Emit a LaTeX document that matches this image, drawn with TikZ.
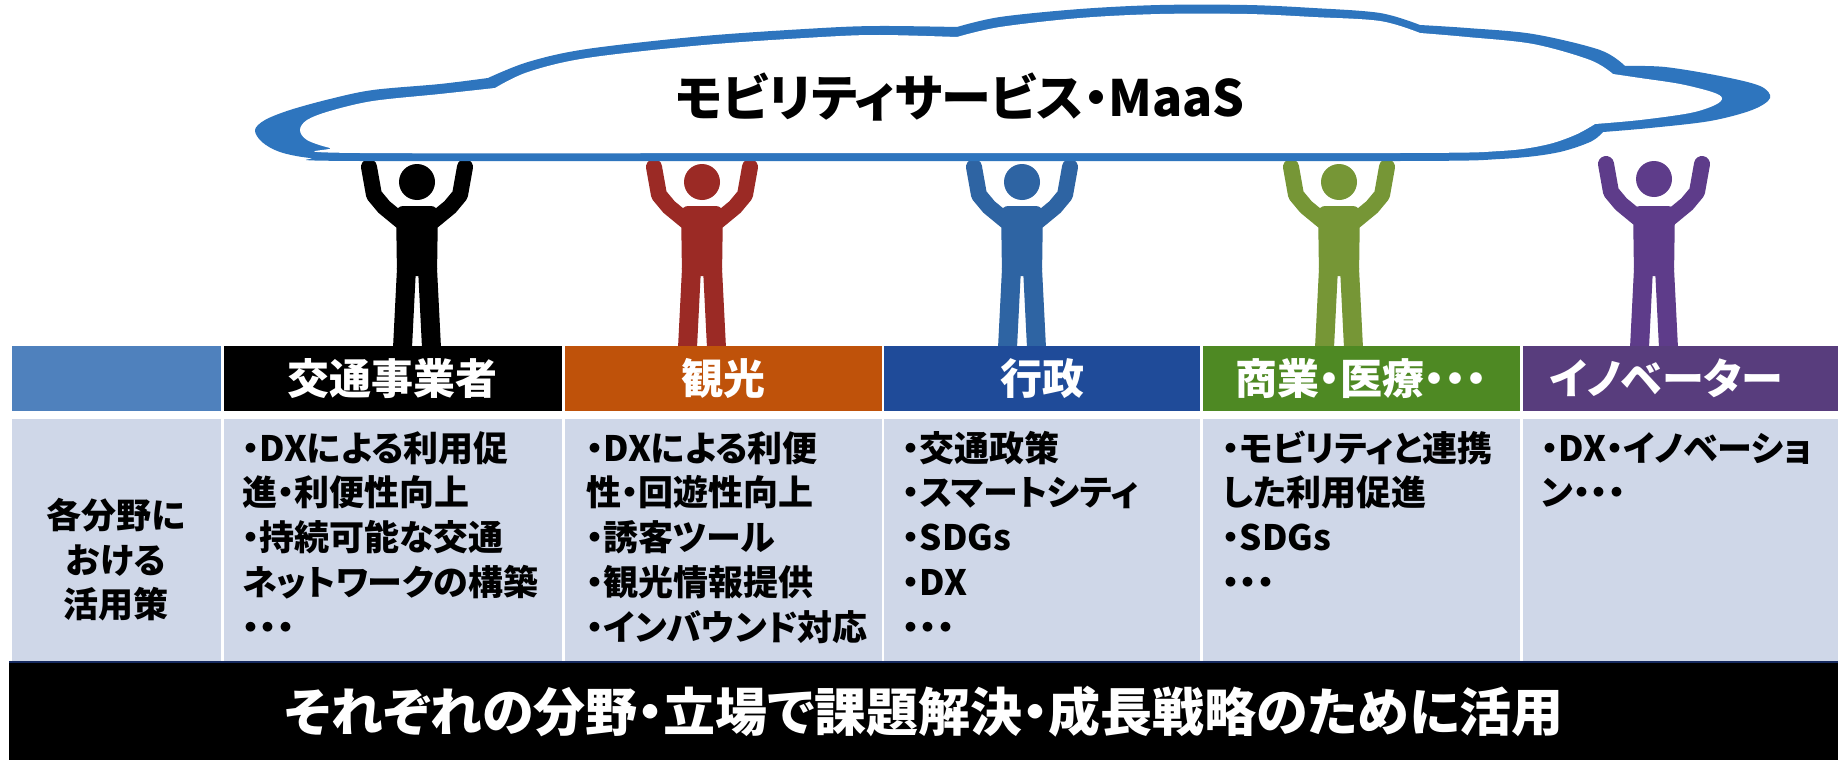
\documentclass[tikz,border=0pt]{standalone}
\usepackage{fontspec}
\setmainfont{Noto Sans CJK JP}[RawFeature=+palt]
\definecolor{cloudblue}{RGB}{46,117,190}
\definecolor{figred}{RGB}{155,42,37}
\definecolor{figblue}{RGB}{46,100,163}
\definecolor{figgreen}{RGB}{118,150,54}
\definecolor{figpurple}{RGB}{94,60,138}
\definecolor{hdrsteel}{RGB}{79,129,189}
\definecolor{hdrorange}{RGB}{191,82,10}
\definecolor{hdrblue}{RGB}{31,75,153}
\definecolor{hdrgreen}{RGB}{78,137,35}
\definecolor{hdrpurple}{RGB}{88,61,125}
\definecolor{cellgray}{RGB}{207,215,232}
\definecolor{barnavy}{RGB}{22,42,95}

% stick figure holding its arms up: #1 centre x, #2 colour, #3 lift of head and hands
\newcommand\stickfig[3]{%
  \begin{scope}[shift={(#1,#3)}]
    \fill[#2] (0,182) circle[radius=18];
    \draw[#2, limb] (-48,167) -- (-43,195) -- (-33,207) -- (-16,221);
    \draw[#2, limb] (48,167) -- (43,195) -- (33,207) -- (16,221);
  \end{scope}
  \begin{scope}[shift={(#1,0)}]
    \fill[#2, rounded corners=7] (-21,206) -- (21,206) -- (20,276) -- (-20,276) -- cycle;
    \fill[#2] (-20,268) -- (-1,268) -- (-5,348) -- (-24,348) -- cycle;
    \fill[#2] (1,268) -- (20,268) -- (24,348) -- (5,348) -- cycle;
  \end{scope}}

\begin{document}
\begin{tikzpicture}[x=1pt, y=-1pt,
  limb/.style={line width=16pt, line cap=round, line join=round},
  titletxt/.style={inner sep=0pt, anchor=base, font=\bfseries\fontsize{50}{60}\selectfont},
  hdrtxt/.style={inner sep=0pt, anchor=base, text=white, font=\bfseries\fontsize{42}{50}\selectfont},
  bodytxt/.style={inner sep=0pt, anchor=base west, font=\bfseries\fontsize{35}{42}\selectfont},
  sidetxt/.style={inner sep=0pt, anchor=base, font=\bfseries\fontsize{35}{42}\selectfont},
  bartxt/.style={inner sep=0pt, anchor=base, text=white, font=\bfseries\fontsize{52}{60}\selectfont}]
\useasboundingbox (0,0) rectangle (1838,760);
\fill[white] (0,0) rectangle (1838,760);

% people lifting the cloud
\stickfig{417}{black}{0}
\stickfig{702}{figred}{0}
\stickfig{1022}{figblue}{0}
\stickfig{1339}{figgreen}{0}
\stickfig{1654}{figpurple}{-3}

% cloud: blue outer outline, white inside
\fill[cloudblue]
  plot[smooth, tension=0.55] coordinates {(488,78) (440,84) (373,90) (330,99) (290,110) (265,120) (255,130) (262,142) (280,152) (310,158) (360,161) (900,161) (1400,161) (1500,159) (1555,153) (1590,142) (1603,132)}
  -- plot[smooth, tension=0.55] coordinates {(1603,132) (1650,128) (1710,121) (1752,110) (1770,98) (1760,86) (1720,76) (1665,67) (1625,66)}
  -- plot[smooth, tension=0.55] coordinates {(1625,66) (1600,50) (1533,34) (1467,28) (1420,25)}
  -- plot[smooth, tension=0.55] coordinates {(1420,25) (1380,13) (1313,8) (1247,5) (1160,5) (1080,9) (1000,17) (957,27)}
  -- plot[smooth, tension=0.55] coordinates {(957,27) (880,26) (822,28) (704,36) (587,49) (528,62) (488,78)}
  -- cycle;
\fill[white]
  plot[smooth, tension=0.55] coordinates {(495,88) (440,94) (373,101) (330,111) (307,120) (300,130) (307,140) (330,148) (360,153) (900,153) (1400,153) (1500,151) (1545,145) (1575,135) (1595,124)}
  -- plot[smooth, tension=0.55] coordinates {(1595,124) (1640,120) (1690,113) (1715,105) (1722,98) (1712,92) (1680,84) (1640,78) (1613,74)}
  -- plot[smooth, tension=0.55] coordinates {(1613,74) (1590,60) (1533,44) (1467,37) (1420,33)}
  -- plot[smooth, tension=0.55] coordinates {(1420,33) (1380,21) (1313,17) (1247,14) (1160,14) (1080,18) (1000,27) (957,37)}
  -- plot[smooth, tension=0.55] coordinates {(957,37) (880,35) (822,37) (704,45) (587,58) (528,72) (495,88)}
  -- cycle;
\node[titletxt] (title) at (960,116) {モビリティサービス・MaaS};

% header row
\fill[hdrsteel]  (11.7,346) rectangle (221,411);
\fill[black]     (224,346) rectangle (561.5,411);
\fill[hdrorange] (564.5,346) rectangle (881.5,411);
\fill[hdrblue]   (884,346) rectangle (1200,411);
\fill[hdrgreen]  (1203,346) rectangle (1519.5,411);
\fill[hdrpurple] (1522.5,346) rectangle (1838,411);
\node[hdrtxt] (h-kotsu)  at (392.7,394.5) {交通事業者};
\node[hdrtxt] (h-kanko)  at (723,394.5) {観光};
\node[hdrtxt] (h-gyosei) at (1042,394.5) {行政};
\node[hdrtxt] (h-shogyo) at (1361,394.5) {商業・医療・・・};
\node[hdrtxt] (h-innov)  at (1666,394.5) {イノベーター};

% body row
\foreach \xa/\xb in {11.7/221, 224/561.5, 564.5/881.5, 884/1200, 1203/1519.5, 1522.5/1838}
  \fill[cellgray] (\xa,419) rectangle (\xb,661);
\node[sidetxt] (side-1) at (116,528) {各分野に};
\node[sidetxt] (side-2) at (116,573) {おける};
\node[sidetxt] (side-3) at (116,617) {活用策};
\foreach \t [count=\i] in {・DXによる利用促, 進・利便性向上, ・持続可能な交通, ネットワークの構築, ・・・}
  \node[bodytxt] (kotsu-\i) at (242,{461+44.8*(\i-1)}) {\t};
\foreach \t [count=\i] in {・DXによる利便, 性・回遊性向上, ・誘客ツール, ・観光情報提供, ・インバウンド対応}
  \node[bodytxt] (kanko-\i) at (586,{461+44.8*(\i-1)}) {\t};
\foreach \t [count=\i] in {・交通政策, ・スマートシティ, ・SDGs, ・DX, ・・・}
  \node[bodytxt] (gyosei-\i) at (902,{461+44.8*(\i-1)}) {\t};
\foreach \t [count=\i] in {・モビリティと連携, した利用促進, ・SDGs, ・・・}
  \node[bodytxt] (shogyo-\i) at (1222,{461+44.8*(\i-1)}) {\t};
\foreach \t [count=\i] in {・DX・イノベーショ, ン・・・}
  \node[bodytxt] (innov-\i) at (1541,{461+44.8*(\i-1)}) {\t};

% bottom banner
\fill[black] (9,661) rectangle (1838,760);
\draw[barnavy, line width=2pt] (9,662) -- (1838,662);
\node[bartxt] (banner) at (924,731) {それぞれの分野・立場で課題解決・成長戦略のために活用};
\end{tikzpicture}
\end{document}
